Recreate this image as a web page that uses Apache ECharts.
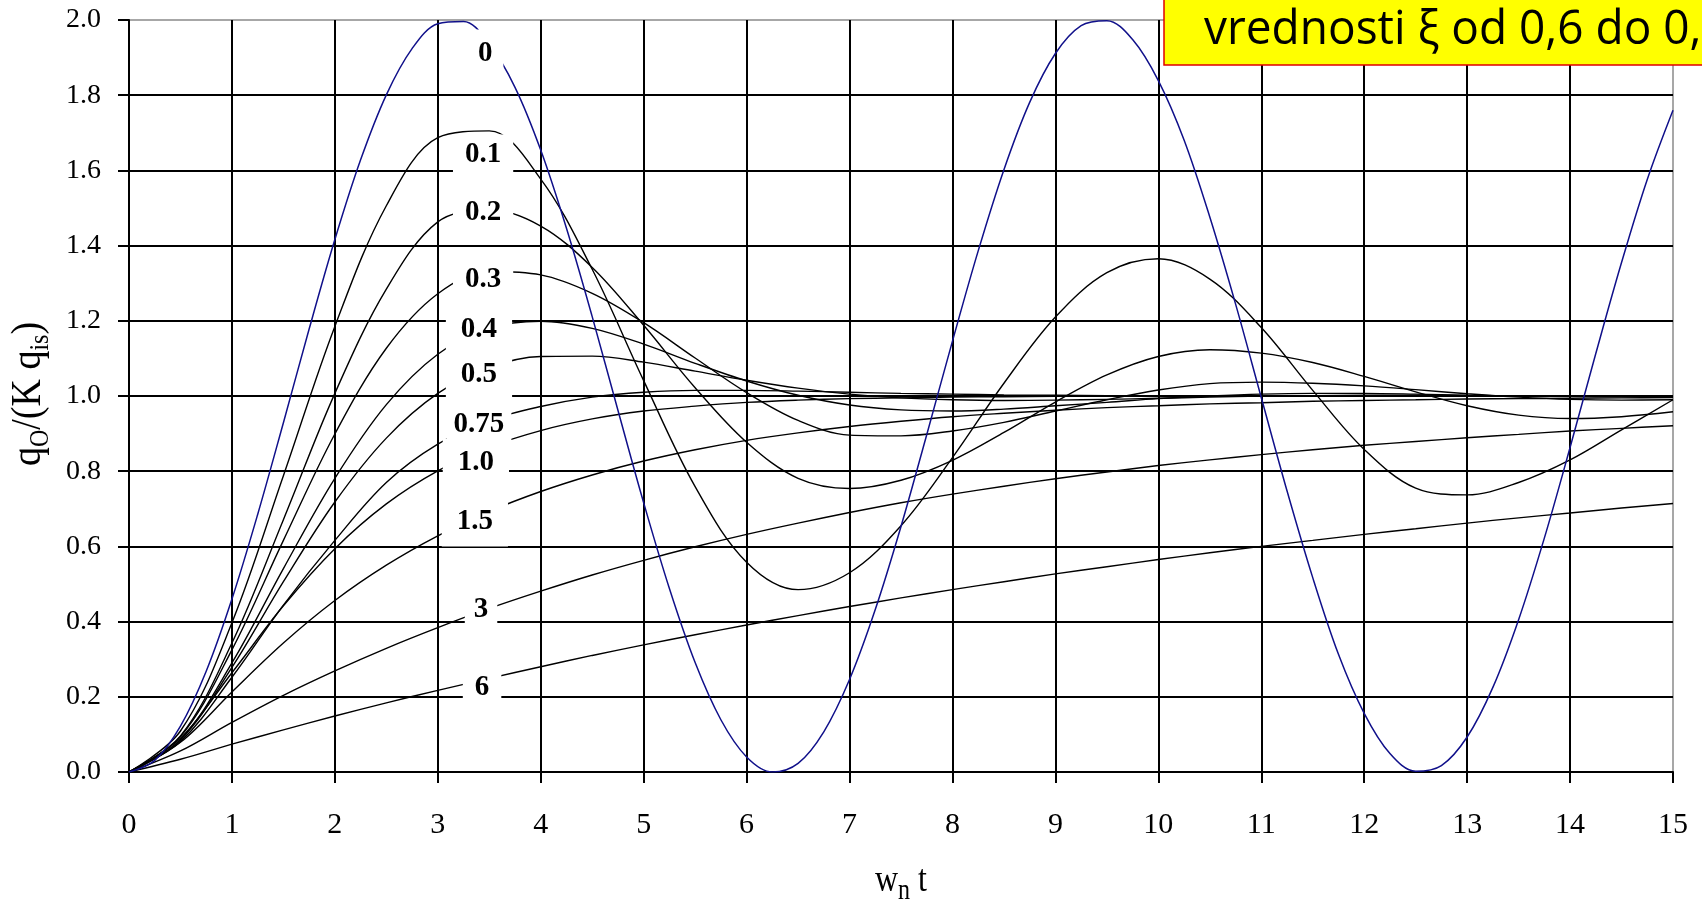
<!DOCTYPE html>
<html><head><meta charset="utf-8">
<script src="https://cdn.jsdelivr.net/npm/echarts@6/dist/echarts.min.js"></script>
<style>html,body{margin:0;padding:0;background:#fff}#c{width:1702px;height:900px}</style>
</head><body><div id="c"></div>
<script>
// time axis (w_n t)
const tFine = [0,0.25,0.5,0.75,1,1.25,1.5,1.75,2,2.25,2.5,2.75,3,3.25,3.5,3.75,4,4.25,4.5,4.75,5,5.25,5.5,5.75,6,6.25,6.5,6.75,7,7.25,7.5,7.75,8,8.25,8.5,8.75,9,9.25,9.5,9.75,10,10.25,10.5,10.75,11,11.25,11.5,11.75,12,12.25,12.5,12.75,13,13.25,13.5,13.75,14,14.25,14.5,14.75,15];
const tStep = [0,0.5,1,1.5,2,2.5,3,3.5,4,4.5,5,5.5,6,6.5,7,7.5,8,8.5,9,9.5,10,10.5,11,11.5,12,12.5,13,13.5,14,14.5,15];

// xi = 0 (on tFine)
const xi0 = [0,0.031,0.122,0.268,0.460,0.685,0.929,1.178,1.416,1.628,1.801,1.924,1.990,1.996,1.936,1.821,1.654,1.446,1.211,0.962,0.716,0.488,0.291,0.139,0.040,0.000,0.023,0.107,0.246,0.432,0.653,0.897,1.146,1.386,1.602,1.781,1.911,1.985,1.998,1.948,1.839,1.681,1.476,1.245,0.996,0.748,0.517,0.313,0.156,0.049,0.002,0.017,0.093,0.225,0.405,0.622,0.863,1.113,1.355,1.576,1.760];
// other curves (on tStep)
const xi01 = [0,0.109,0.397,0.788,1.185,1.506,1.687,1.705,1.577,1.337,1.041,0.759,0.558,0.485,0.530,0.655,0.836,1.034,1.210,1.328,1.365,1.311,1.182,1.015,0.858,0.755,0.737,0.770,0.830,0.910,0.990];
const xi02 = [0,0.096,0.343,0.671,1.007,1.284,1.463,1.496,1.452,1.342,1.188,1.022,0.877,0.781,0.754,0.776,0.829,0.903,0.984,1.056,1.105,1.123,1.114,1.089,1.052,1.011,0.974,0.949,0.940,0.945,0.958];
const xi03 = [0,0.094,0.325,0.616,0.899,1.127,1.272,1.331,1.322,1.273,1.195,1.101,1.009,0.935,0.896,0.894,0.907,0.930,0.960,0.990,1.016,1.033,1.037,1.034,1.027,1.017,1.006,0.997,0.991,0.989,0.990];
const xi04 = [0,0.086,0.290,0.541,0.781,0.977,1.111,1.181,1.199,1.180,1.138,1.087,1.040,1.002,0.976,0.963,0.960,0.965,0.974,0.983,0.993,1.000,1.005,1.007,1.007,1.005,1.002,1.000,0.999,0.998,0.998];
const xi05 = [0,0.085,0.278,0.506,0.718,0.888,1.007,1.076,1.105,1.106,1.090,1.066,1.042,1.021,1.005,0.995,0.990,0.988,0.989,0.991,0.994,0.997,1.000,1.001,1.002,1.002,1.001,1.000,1.000,1.000,1.000];
const xi075 = [0,0.081,0.252,0.444,0.616,0.770,0.872,0.935,0.972,0.997,1.010,1.015,1.015,1.013,1.010,1.007,1.005,1.003,1.002,1.001,1.000,1.000,1.000,1.000,1.000,1.000,1.000,1.000,1.000,1.000,1.000];
const xi10 = [0,0.090,0.264,0.442,0.594,0.713,0.801,0.864,0.908,0.939,0.960,0.973,0.983,0.989,0.993,0.995,0.997,0.998,0.999,0.999,1.000,1.000,1.000,1.000,1.000,1.000,1.000,1.000,1.000,1.000,1.000];
const xi15 = [0,0.079,0.213,0.343,0.456,0.550,0.628,0.693,0.746,0.790,0.827,0.857,0.882,0.902,0.919,0.933,0.945,0.954,0.962,0.969,0.974,0.979,0.982,0.986,0.988,0.990,0.992,0.993,0.994,0.995,0.996];
const xi3 = [0,0.056,0.132,0.204,0.269,0.329,0.384,0.435,0.481,0.524,0.563,0.599,0.632,0.662,0.690,0.716,0.739,0.760,0.780,0.798,0.815,0.830,0.844,0.857,0.869,0.879,0.889,0.898,0.907,0.914,0.921];
const xi6 = [0,0.034,0.074,0.112,0.149,0.184,0.217,0.249,0.280,0.310,0.338,0.365,0.391,0.416,0.440,0.463,0.485,0.506,0.527,0.546,0.565,0.583,0.600,0.616,0.632,0.647,0.662,0.676,0.689,0.702,0.714];

// curve labels (damping ratio) and where they sit
const curveNames = ['0','0.1','0.2','0.3','0.4','0.5','0.75','1.0','1.5','3','6'];
const labelX = [3.46,3.44,3.44,3.44,3.40,3.40,3.40,3.37,3.36,3.42,3.43];
const labelY = [1.912,1.641,1.487,1.309,1.176,1.056,0.923,0.824,0.665,0.431,0.226];

const xTickLabels = ['0','1','2','3','4','5','6','7','8','9','10','11','12','13','14','15'];
const yTickLabels = ['0.0','0.2','0.4','0.6','0.8','1.0','1.2','1.4','1.6','1.8','2.0'];
const noteText = 'vrednosti ξ od 0,6 do 0,';

const chart = echarts.init(document.getElementById('c'), null, {renderer:'canvas'});

const blackSets = [xi01, xi02, xi03, xi04, xi05, xi075, xi10, xi15, xi3, xi6];
const series = [];
blackSets.forEach(arr => {
  series.push({type:'line', data: tStep.map((t,i)=>[t, arr[i]]), showSymbol:false, smooth:0.35,
    lineStyle:{color:'#000', width:1.4}, silent:true, z:2});
});
series.push({type:'line', data: tFine.map((t,i)=>[t, xi0[i]]), showSymbol:false, smooth:0.35,
  lineStyle:{color:'#10108a', width:1.5}, silent:true, z:3});

const pads = [[9,11],[6,12],[8,12],[9,12],[9,15],[9,15],[6,7],[9,15],[10,15],[8,9],[8,12]];
series.push({
  type:'scatter', z:10, symbol:'circle', symbolSize:0, itemStyle:{color:'#fff'}, silent:true,
  data: curveNames.map((s,i)=>({value:[labelX[i], labelY[i]], name:s, label:{padding:pads[i]}})),
  label:{show:true, position:'inside', formatter: p => p.name, fontFamily:'"Liberation Serif"', fontWeight:'bold',
    fontSize:29, color:'#000', opacity:1, textBorderWidth:0, textShadowBlur:0, backgroundColor:'#fff'}
});

// axis titles as text pieces (with subscripts)
const mctx = document.createElement('canvas').getContext('2d');
function titleGroup(pieces, cx, cy, rotation, scaleY) {
  const widths = pieces.map(p => { mctx.font = p.size + 'px "Liberation Serif"'; return mctx.measureText(p.text).width; });
  const total = widths.reduce((a,b)=>a+b,0);
  let x = -total/2;
  const children = pieces.map((p,i) => {
    const el = {type:'text', x:x, y:p.dy, style:{text:p.text, font:p.size + 'px "Liberation Serif"', fill:'#000', align:'left', verticalAlign:'middle'}};
    x += widths[i];
    return el;
  });
  return {type:'group', x:cx, y:cy, rotation:rotation, scaleY:scaleY, children:children, z:50};
}

const option = {
  animation:false,
  backgroundColor:'#fff',
  grid:{left:129, right:29, top:20, bottom:128, show:true, borderColor:'#8a8a8a', borderWidth:1.5},
  xAxis:{type:'value', min:0, max:15, interval:1,
    axisLine:{lineStyle:{color:'#000', width:2}},
    axisTick:{length:11, lineStyle:{color:'#000', width:2}},
    axisLabel:{fontFamily:'"Liberation Serif"', fontSize:30, color:'#000', margin:38, formatter:v=>xTickLabels[Math.round(v)]},
    splitLine:{show:true, showMinLine:false, showMaxLine:false, lineStyle:{color:'#000', width:2}}},
  yAxis:{type:'value', min:0, max:2, interval:0.2,
    axisLine:{show:true, lineStyle:{color:'#000', width:2}},
    axisTick:{show:true, length:11, lineStyle:{color:'#000', width:2}},
    axisLabel:{fontFamily:'"Liberation Serif"', fontSize:28, color:'#000', margin:28, formatter:v=>yTickLabels[Math.round(v*5)]},
    splitLine:{show:true, showMinLine:false, showMaxLine:false, lineStyle:{color:'#000', width:2}}},
  series: series,
  graphic:[
    titleGroup([{text:'w', size:32, dy:0},{text:'n', size:24, dy:9},{text:' t', size:32, dy:0}], 901, 881, 0, 1.2),
    titleGroup([{text:'q', size:38, dy:0},{text:'O', size:24, dy:11},{text:'/(K q', size:38, dy:0},{text:'is', size:24, dy:11},{text:')', size:38, dy:0}], 29, 394, Math.PI/2, 1.12),
    {type:'rect', z:100, shape:{x:1164, y:-5, width:600, height:70}, style:{fill:'#ffff00', stroke:'#e00000', lineWidth:1.5}},
    {type:'text', z:101, x:1204, y:30, scaleY:1.05, style:{text:noteText, font:'46px "Open Sans"', fill:'#000', align:'left', verticalAlign:'middle'}}
  ]
};
chart.setOption(option);
</script>
</body></html>
